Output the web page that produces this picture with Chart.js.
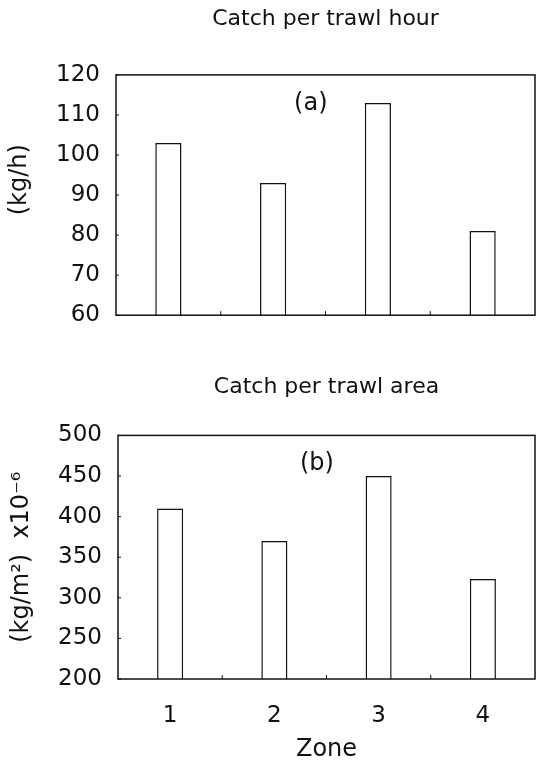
<!DOCTYPE html>
<html>
<head>
<meta charset="utf-8">
<script src="https://cdn.jsdelivr.net/npm/chart.js@4.4.1/dist/chart.umd.min.js"></script>
<style>
  html, body { margin: 0; padding: 0; background: #fff; }
  #wrapA { position: absolute; left: 0; top: 0; width: 538px; height: 345px; }
  #wrapB { position: absolute; left: 0; top: 365px; width: 538px; height: 400px; }
</style>
</head>
<body>
<div id="wrapA"><canvas id="chartA"></canvas></div>
<div id="wrapB"><canvas id="chartB"></canvas></div>
<script>
const zones = ['1', '2', '3', '4'];
const catchPerHour = [103, 93, 113, 81];
const catchPerArea = [410, 370, 450, 323];
const hourTicks = [60, 70, 80, 90, 100, 110, 120];
const areaTicks = [200, 250, 300, 350, 400, 450, 500];

const FONT = '"DejaVu Sans", sans-serif';
const INK = '#111';

// box round the plot, small inward ticks and the (a)/(b) tag
const framePlugin = {
  id: 'frame',
  afterDatasetsDraw(chart, args, opts) {
    const { ctx, chartArea: a, scales } = chart;
    ctx.save();
    ctx.strokeStyle = INK;
    ctx.lineWidth = 1.5;
    ctx.strokeRect(a.left, a.top, a.right - a.left, a.bottom - a.top);
    ctx.lineWidth = 1;
    const x = scales.x;
    for (let i = 1; i < chart.data.labels.length; i++) {
      const px = (x.getPixelForValue(i - 1) + x.getPixelForValue(i)) / 2;
      ctx.beginPath(); ctx.moveTo(px, a.bottom); ctx.lineTo(px, a.bottom - 4); ctx.stroke();
    }
    scales.y.ticks.forEach(t => {
      const py = scales.y.getPixelForValue(t.value);
      ctx.beginPath(); ctx.moveTo(a.left, py); ctx.lineTo(a.left + 3, py); ctx.stroke();
    });
    ctx.fillStyle = INK;
    ctx.font = '24px ' + FONT;
    ctx.textAlign = 'center';
    ctx.textBaseline = 'middle';
    ctx.fillText(opts.tag, a.left + (a.right - a.left) * opts.fx, a.top + opts.dy);
    ctx.restore();
  }
};

function barDataset(values) {
  return {
    data: values,
    backgroundColor: '#fff',
    borderColor: INK,
    borderWidth: 1.5,
    borderSkipped: false,
    categoryPercentage: 1,
    barPercentage: 0.25
  };
}

function yScale(ticks, title, titlePad, axisWidth) {
  return {
    min: ticks[0],
    max: ticks[ticks.length - 1],
    afterFit: s => { s.width = axisWidth; },
    ticks: { stepSize: ticks[1] - ticks[0], color: INK, padding: 16, font: { family: FONT, size: 23 } },
    grid: { display: false, drawTicks: false },
    border: { display: false },
    title: { display: true, text: title, color: INK, padding: { top: titlePad, bottom: 0 }, font: { family: FONT, size: 24 } }
  };
}

function plotTitle(text, top, bottom) {
  return {
    display: true, text: text, color: INK, fullSize: false,
    font: { family: FONT, size: 22, weight: 'normal' },
    padding: { top: top, bottom: bottom }
  };
}

new Chart(document.getElementById('chartA'), {
  type: 'bar',
  data: { labels: zones, datasets: [barDataset(catchPerHour)] },
  options: {
    responsive: true,
    maintainAspectRatio: false,
    animation: false,
    layout: { padding: { left: 0, right: 3, top: 0, bottom: 27 } },
    plugins: {
      legend: { display: false },
      tooltip: { enabled: false },
      title: plotTitle('Catch per trawl hour', 6, 42.5),
      frame: { tag: '(a)', fx: 0.465, dy: 29 }
    },
    scales: {
      x: { display: false },
      y: yScale(hourTicks, '    (kg/h)', 5, 116)
    }
  },
  plugins: [framePlugin]
});

new Chart(document.getElementById('chartB'), {
  type: 'bar',
  data: { labels: zones, datasets: [barDataset(catchPerArea)] },
  options: {
    responsive: true,
    maintainAspectRatio: false,
    animation: false,
    layout: { padding: { left: 0, right: 3, top: 0, bottom: 0 } },
    plugins: {
      legend: { display: false },
      tooltip: { enabled: false },
      title: plotTitle('Catch per trawl area', 9, 35),
      frame: { tag: '(b)', fx: 0.477, dy: 28 }
    },
    scales: {
      x: {
        afterFit: s => { s.height = 86; },
        ticks: { color: INK, padding: 23, font: { family: FONT, size: 23 } },
        grid: { display: false, drawTicks: false },
        border: { display: false },
        title: { display: true, text: 'Zone', color: INK, padding: { top: 6, bottom: 1 }, font: { family: FONT, size: 24 } }
      },
      y: yScale(areaTicks, '(kg/m²)  x10⁻⁶', 7, 118)
    }
  },
  plugins: [framePlugin]
});
</script>
</body>
</html>
